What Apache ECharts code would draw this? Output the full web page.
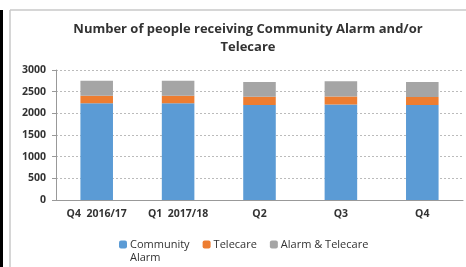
<!DOCTYPE html>
<html>
<head>
<meta charset="utf-8">
<script src="https://cdn.jsdelivr.net/npm/echarts@6/dist/echarts.min.js"></script>
<style>
  html, body { margin: 0; padding: 0; background: #fff; }
  #chart { width: 466px; height: 267px; }
</style>
</head>
<body>
<div id="chart"></div>
<script>
const categories = ['Q4  2016/17', 'Q1  2017/18', 'Q2', 'Q3', 'Q4']
const communityAlarm = [2230, 2230, 2190, 2205, 2190]
const telecare = [178, 178, 192, 185, 188]
const alarmTelecare = [345, 345, 340, 348, 345]
const yTicks = [0, 500, 1000, 1500, 2000, 2500, 3000]

const myChart = echarts.init(document.getElementById('chart'))
const font = 'Open Sans'
const option = {
  animation: false,
  textStyle: { fontFamily: font },
  title: {
    text: 'Number of people receiving Community Alarm and/or\nTelecare',
    left: 243,
    textAlign: 'center',
    top: 15,
    textStyle: { fontSize: 13, fontWeight: 'bold', color: '#333', lineHeight: 18, fontFamily: font }
  },
  graphic: [
    { type: 'rect', shape: { x: 0, y: 10, width: 3, height: 257 }, style: { fill: '#000' } },
    { type: 'line', shape: { x1: 10, y1: 10, x2: 466, y2: 10 }, style: { stroke: '#c8c8c8', lineWidth: 1.5 } },
    { type: 'line', shape: { x1: 10, y1: 10, x2: 10, y2: 267 }, style: { stroke: '#c8c8c8', lineWidth: 1.5 } }
  ],
  grid: { left: 56, right: 3, top: 70, bottom: 67 },
  legend: {
    top: 220,
    left: 114,
    itemWidth: 8,
    itemHeight: 8,
    itemGap: 13,
    // empty first line keeps "Community" level with the icon, "Alarm" wraps below
    formatter: name => (name.indexOf('\n') > -1 ? '\n' + name : name),
    textStyle: { fontSize: 11, lineHeight: 13, color: '#333', fontFamily: font, padding: [0, 0, 0, -2] },
    data: ['Community\nAlarm', 'Telecare', 'Alarm & Telecare']
  },
  xAxis: {
    type: 'category',
    data: categories,
    axisLine: { lineStyle: { color: '#999' } },
    axisTick: { lineStyle: { color: '#999' } },
    axisLabel: { color: '#333', fontSize: 10.5, fontWeight: 'bold', margin: 9, interval: 0 }
  },
  yAxis: {
    type: 'value',
    min: yTicks[0],
    max: yTicks[yTicks.length - 1],
    interval: 500,
    axisLine: { show: true, lineStyle: { color: '#999' } },
    axisTick: { show: true, length: 4, lineStyle: { color: '#999' } },
    axisLabel: { color: '#333', fontSize: 10.5, fontWeight: 'bold', margin: 10, formatter: v => String(v) },
    splitLine: { lineStyle: { color: '#bbb', type: [2, 2] } }
  },
  series: [
    { name: 'Community\nAlarm', type: 'bar', stack: '1', barWidth: '40%', data: communityAlarm, itemStyle: { color: '#5B9BD5' } },
    { name: 'Telecare', type: 'bar', stack: '1', data: telecare, itemStyle: { color: '#ED7D31' } },
    { name: 'Alarm & Telecare', type: 'bar', stack: '1', data: alarmTelecare, itemStyle: { color: '#A5A5A5' } }
  ]
}
myChart.setOption(option)
</script>
</body>
</html>
